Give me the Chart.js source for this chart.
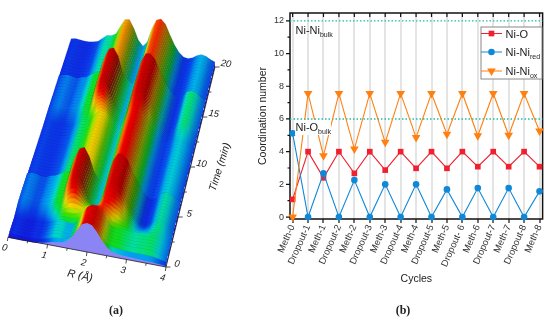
<!DOCTYPE html>
<html>
<head>
<meta charset="utf-8">
<script src="https://cdn.jsdelivr.net/npm/chart.js@4"></script>
<style>
  body { margin: 0; background: #fff; overflow: hidden; }
  canvas { position: absolute; top: 0; }
  #surface { left: 0; }
  #cycles { left: 250px; }
  .caption { position: absolute; top: 303px; width: 40px; text-align: center; font: bold 12px "Liberation Serif"; color: #222; }
</style>
</head>
<body>
<canvas id="surface" width="250" height="320"></canvas>
<canvas id="cycles" width="300" height="320"></canvas>
<div class="caption" style="left:96px">(a)</div>
<div class="caption" style="left:383px">(b)</div>

<script>
// panel (b) values
const cycleLabels = ['Meth-0', 'Dropout-1', 'Meth-1', 'Dropout-2', 'Meth-2', 'Dropout-3', 'Meth-3', 'Dropout-4', 'Meth-4', 'Dropout-5', 'Meth-5', 'Dropout- 6', 'Meth-6', 'Dropout-7', 'Meth-7', 'Dropout-8', 'Meth-8'];
const niO = [1.08, 4, 2.4, 4, 2.67, 4, 2.87, 4, 2.98, 4, 2.98, 4, 3.08, 4, 3.08, 4, 3.08];
const niNiRed = [5.12, 0, 2.67, 0, 2.26, 0, 2, 0, 2, 0, 1.69, 0, 1.77, 0, 1.77, 0, 1.57];
const niNiOx = [0, 7.56, 3.75, 7.56, 4.16, 7.56, 4.57, 7.56, 4.87, 7.56, 5.06, 7.56, 4.97, 7.56, 5, 7.56, 5.26];
const bulkLevels = [12, 6];
const yTicks = [0, 2, 4, 6, 8, 10, 12];
const yMinorTicks = [1, 3, 5, 7, 9, 11];

// panel (a) values: amplitude along R for each part of the run
const rGrid = [0, .125, .25, .375, .5, .625, .75, .875, 1, 1.125, 1.25, 1.375, 1.5, 1.625, 1.75, 1.875, 2, 2.125, 2.25, 2.375, 2.5, 2.625, 2.75, 2.875, 3, 3.125, 3.25, 3.375, 3.5, 3.625, 3.75, 3.875, 4];
const scanEdge  = [0, 0, 0, 0, 0, 0, .01, .02, .05, .08, .1, .12, .18, .3, .48, .64, .69, .66, .52, .34, .2, .12, .09, .08, .07, .07, .06, .06, .05, .05, .04, .03, .02];
const scanFront = [.03, .05, .04, .03, .03, .05, .05, .08, .12, .17, .18, .15, .14, .22, .4, .6, .68, .66, .55, .38, .26, .24, .23, .21, .2, .19, .2, .2, .21, .2, .17, .13, .09];
const scanLower = [.12, .16, .15, .12, .12, .17, .2, .26, .34, .36, .72, .95, 1, .8, .46, .3, .22, .42, .82, 1, 1, .88, .64, .42, .22, .1, .06, .11, .22, .28, .25, .17, .12];
const scanMid   = [.08, .1, .09, .08, .08, .1, .12, .19, .28, .3, .36, .5, .58, .56, .44, .3, .22, .4, .7, .82, .84, .72, .5, .32, .18, .11, .09, .12, .2, .23, .2, .15, .1];
const scanUpper = [.1, .14, .16, .14, .12, .16, .18, .26, .33, .36, .74, .96, 1, .82, .46, .3, .2, .38, .8, 1, 1.02, .9, .66, .44, .24, .12, .07, .12, .26, .3, .27, .18, .12];
const scanBack  = [.08, .1, .09, .08, .08, .1, .13, .22, .31, .32, .38, .58, .76, .78, .58, .32, .2, .32, .66, .88, .92, .82, .58, .36, .2, .11, .09, .13, .2, .24, .22, .16, .12];
const scanProfiles = [scanEdge, scanFront, scanLower, scanMid, scanUpper, scanBack];
const scanGain = [1.45, 1.45, 1, 1.05, 1, .88];

// one entry per recorded row, blend = share of the profile before it
const scanTimes = [0, .25, .5, .8, 1.1, 1.4, 1.7, 1.9,
  2.05, 2.2, 2.35, 2.5, 2.65, 2.8, 2.95, 3.1, 3.25, 3.4,
  3.7, 4, 4.3, 4.6, 4.9, 5.2, 5.5, 5.8, 6,
  6.2, 6.5, 6.8, 7.1, 7.4, 7.7, 8, 8.3, 8.6, 8.9, 9.2, 9.5, 9.8, 10.1, 10.4, 10.7, 11, 11.3, 11.5,
  11.65, 11.8, 11.95, 12.1, 12.25, 12.4, 12.55, 12.7, 12.85,
  13.1, 13.4, 13.7, 14, 14.3, 14.6, 14.9, 15.2, 15.5, 15.8, 16.1,
  16.3, 16.6, 16.9, 17.2, 17.5, 17.8, 18.1, 18.4, 18.7, 19, 19.3, 19.6, 20];
const scanProfile = [0, 1, 1, 1, 1, 1, 1, 1,
  2, 2, 2, 2, 2, 2, 2, 2, 2, 2,
  2, 2, 2, 2, 2, 2, 2, 2, 2,
  3, 3, 3, 3, 3, 3, 3, 3, 3, 3, 3, 3, 3, 3, 3, 3, 3, 3, 3,
  4, 4, 4, 4, 4, 4, 4, 4, 4,
  4, 4, 4, 4, 4, 4, 4, 4, 4, 4, 4,
  5, 5, 5, 5, 5, 5, 5, 5, 5, 5, 5, 5, 5];
const scanBlend = [0, .5, 0, 0, 0, 0, 0, 0,
  .9, .8, .7, .6, .5, .4, .3, .2, .1, .05,
  0, 0, 0, 0, 0, 0, 0, 0, 0,
  0, 0, 0, 0, 0, 0, 0, 0, 0, 0, 0, 0, 0, 0, 0, 0, 0, 0, 0,
  .9, .8, .7, .6, .5, .4, .3, .2, .1,
  0, 0, 0, 0, 0, 0, 0, 0, 0, 0, 0,
  0, 0, 0, 0, 0, 0, 0, 0, 0, 0, 0, 0, 0];

const rainbow = [
  [0, [20, 10, 215]], [.1, [10, 60, 235]], [.2, [0, 170, 240]], [.26, [0, 220, 200]],
  [.33, [10, 225, 40]], [.42, [60, 225, 0]], [.58, [240, 225, 0]], [.72, [255, 130, 0]],
  [.85, [245, 0, 0]], [1.1, [190, 0, 0]]
];

function rainbowColor(c, shade) {
  let i = 0;
  while (i < rainbow.length - 2 && c > rainbow[i + 1][0]) i++;
  const a = rainbow[i], b = rainbow[i + 1];
  const k = Math.min(1, Math.max(0, (c - a[0]) / (b[0] - a[0])));
  const rgb = a[1].map((v, n) => Math.round((v + (b[1][n] - v) * k) * shade));
  return `rgb(${rgb[0]},${rgb[1]},${rgb[2]})`;
}

function scenePoint(r, t, h) {
  const f = t / 20;
  return {
    x: (8 + 39.5 * r) * (1 - f) + (71 + 36 * r) * f,
    y: (237 + 7.5 * r) * (1 - f) + (42 + 6.25 * r) * f - h * 42
  };
}

function rowHeights(i) {
  const p = scanProfile[i], b = scanBlend[i];
  if (b === 0) return scanProfiles[p];
  return scanProfiles[p].map((v, j) => v * (1 - b) + scanProfiles[p - 1][j] * b);
}

function rowGain(i) {
  const p = scanProfile[i], b = scanBlend[i];
  return b === 0 ? scanGain[p] : scanGain[p] * (1 - b) + scanGain[p - 1] * b;
}

// the surface scale runs 0-250 over a 250px canvas, so scene x is already a pixel here
function rowGradient(chart, i) {
  const x0 = scenePoint(0, scanTimes[i], 0).x;
  const x4 = scenePoint(4, scanTimes[i], 0).x;
  const g = chart.ctx.createLinearGradient(x0, 0, x4, 0);
  const h = rowHeights(i), gain = rowGain(i);
  rGrid.forEach((r, j) => {
    const slope = (h[Math.min(j + 1, h.length - 1)] - h[Math.max(j - 1, 0)]) / .25;
    const shade = Math.max(.42, Math.min(1, 1 + .24 * slope));
    g.addColorStop(r / 4, rainbowColor(h[j] * gain, shade));
  });
  return g;
}

const surfaceDatasets = [];

// face of the first scan and the R = 4 side, in front of everything
surfaceDatasets.push({
  data: rGrid.filter(r => r >= .75).map(r => scenePoint(r, 0, scanEdge[rGrid.indexOf(r)]))
    .concat([scenePoint(4, 0, 0), scenePoint(.75, 0, 0)]),
  backgroundColor: '#8a84f5', fill: 'shape', borderWidth: 0
});
surfaceDatasets.push({
  data: scanTimes.map((t, i) => scenePoint(4, t, rowHeights(i)[32]))
    .concat([scenePoint(4, 20, 0), scenePoint(4, 0, 0)]),
  backgroundColor: '#1414b8', fill: 'shape', borderWidth: 0
});

for (let i = 1; i < scanTimes.length; i++) {
  const back = rowHeights(i), front = rowHeights(i - 1);
  const top = rGrid.map((r, j) => scenePoint(r, scanTimes[i], back[j]));
  // front edge runs a little low so the next strip covers the seam
  const bottom = rGrid.map((r, j) => scenePoint(r, scanTimes[i - 1], front[j] - .02)).reverse();
  surfaceDatasets.push({
    data: top.concat(bottom),
    backgroundColor: ctx => rowGradient(ctx.chart, i),
    fill: 'shape',
    borderWidth: 0
  });
  // rib line along the row
  surfaceDatasets.push({
    data: top,
    fill: false,
    borderColor: 'rgba(0,0,0,.16)',
    borderWidth: .6
  });
}

const surfaceAxes = {
  id: 'surfaceAxes',
  afterDatasetsDraw(chart) {
    const { ctx, scales: { x, y } } = chart;
    const px = p => ({ x: x.getPixelForValue(p.x), y: y.getPixelForValue(p.y) });
    const line = (a, b) => {
      ctx.beginPath(); ctx.moveTo(a.x, a.y); ctx.lineTo(b.x, b.y); ctx.stroke();
    };
    const label = (text, cx, cy, angle, font) => {
      ctx.save();
      ctx.translate(cx, cy); ctx.rotate(angle);
      ctx.font = font; ctx.fillStyle = '#222';
      ctx.textAlign = 'center'; ctx.textBaseline = 'middle';
      ctx.fillText(text, 0, 0);
      ctx.restore();
    };
    ctx.save();
    ctx.strokeStyle = '#222';
    ctx.lineWidth = .8;
    line(px(scenePoint(0, 0, 0)), px(scenePoint(4, 0, 0)));
    line(px(scenePoint(4, 0, 0)), px(scenePoint(4, 20, 0)));
    [.5, 1, 1.5, 2, 2.5, 3, 3.5, 4, 0].forEach(r => {
      const p = px(scenePoint(r, 0, 0));
      line(p, { x: p.x - .6, y: p.y + (r % 1 === 0 ? 4 : 2.5) });
      if (r % 1 === 0) label(String(r), p.x - 3.5, p.y + 11, .2, 'italic 9.5px "Liberation Sans"');
    });
    [0, 2.5, 5, 7.5, 10, 12.5, 15, 17.5, 20].forEach(t => {
      const p = px(scenePoint(4, t, 0));
      line(p, { x: p.x + (t % 5 === 0 ? 4.5 : 2.5), y: p.y });
      if (t % 5 === 0) label(String(t), p.x + 11, p.y - 3, .15, 'italic 9.5px "Liberation Sans"');
    });
    ctx.restore();
    label('R (\u00c5)', 80, 276, .21, 'italic 11px "Liberation Sans"');
    label('Time (min)', 220, 167, -1.27, 'italic 10.5px "Liberation Sans"');
  }
};

new Chart(document.getElementById('surface'), {
  type: 'scatter',
  data: { datasets: surfaceDatasets },
  options: {
    responsive: false,
    animation: false,
    events: [],
    showLine: true,
    clip: false,
    elements: { point: { radius: 0 } },
    layout: { padding: 0 },
    plugins: { legend: { display: false }, tooltip: { enabled: false } },
    scales: {
      x: { type: 'linear', display: false, min: 0, max: 250 },
      y: { type: 'linear', display: false, min: 0, max: 320, reverse: true }
    }
  },
  plugins: [surfaceAxes]
});

const RED = '#f0202f', BLUE = '#1088d8', ORANGE = '#ff8010';
const textFont = '"Liberation Sans"';

function subLabel(ctx, main, sub, x, y) {
  ctx.fillStyle = '#222';
  ctx.textAlign = 'left';
  ctx.textBaseline = 'alphabetic';
  ctx.font = `11px ${textFont}`;
  ctx.fillText(main, x, y);
  const w = ctx.measureText(main).width;
  ctx.font = `7px ${textFont}`;
  ctx.fillText(sub, x + w, y + 3);
}

const cycleFrame = {
  id: 'cycleFrame',
  beforeDatasetsDraw(chart) {
    const { ctx, chartArea: a, scales: { x, y } } = chart;
    ctx.save();
    ctx.strokeStyle = '#111';
    ctx.lineWidth = 1.5;
    ctx.strokeRect(a.left, a.top, a.right - a.left, a.bottom - a.top);
    ctx.lineWidth = 1.2;
    ctx.beginPath();
    cycleLabels.forEach((c, i) => {
      const px = x.getPixelForValue(i);
      ctx.moveTo(px, a.top); ctx.lineTo(px, a.top + 4);
    });
    yTicks.forEach(v => {
      const py = y.getPixelForValue(v);
      ctx.moveTo(a.left, py); ctx.lineTo(a.left - 4, py);
    });
    yMinorTicks.forEach(v => {
      const py = y.getPixelForValue(v);
      ctx.moveTo(a.left, py); ctx.lineTo(a.left - 2.5, py);
    });
    ctx.stroke();
    ctx.restore();
  },
  afterDatasetsDraw(chart) {
    const { ctx, data: { datasets } } = chart;
    ctx.save();
    // bulk labels sit on white
    ctx.fillStyle = '#fff';
    ctx.fillRect(45, 120, 36, 15);
    subLabel(ctx, 'Ni-Ni', 'bulk', 45.5, 34);
    subLabel(ctx, 'Ni-O', 'bulk', 45.5, 131);

    // legend box
    ctx.fillStyle = '#fff';
    ctx.strokeStyle = '#888';
    ctx.lineWidth = 1;
    ctx.fillRect(231, 27, 61, 52);
    ctx.strokeRect(231, 27, 61, 52);
    const rows = [
      ['Ni-O', '', 33.5, 'rect', 0, 2],
      ['Ni-Ni', 'red', 52, 'circle', 0, 1],
      ['Ni-Ni', 'ox', 71, 'triangle', 180, 0]
    ];
    rows.forEach(r => {
      const ds = datasets[r[5]];
      ctx.strokeStyle = ds.borderColor;
      ctx.lineWidth = 1;
      ctx.beginPath(); ctx.moveTo(231, r[2]); ctx.lineTo(252, r[2]); ctx.stroke();
      ctx.fillStyle = ds.pointBackgroundColor;
      ctx.strokeStyle = ds.pointBackgroundColor;
      Chart.helpers.drawPoint(ctx, { pointStyle: r[3], radius: ds.pointRadius, rotation: r[4], borderWidth: 0 }, 241.5, r[2]);
      subLabel(ctx, r[0], r[1], 255.5, r[2] + 4);
    });
    ctx.restore();
  }
};

const markerSet = (label, data, color, style, radius, rotation) => ({
  label, data: data.map((v, i) => ({ x: i, y: v })),
  borderColor: color, borderWidth: 1.1,
  pointBackgroundColor: color, pointBorderWidth: 0,
  pointStyle: style, pointRadius: radius, pointRotation: rotation || 0,
  clip: false, showLine: true
});

const bulkSets = bulkLevels.map(v => ({
  label: 'bulk ' + v,
  data: [{ x: -0.17, y: v }, { x: 16.2, y: v }],
  borderColor: '#19bfa8', borderWidth: 1.4, borderDash: [1.5, 2],
  pointRadius: 0, showLine: true
}));

new Chart(document.getElementById('cycles'), {
  type: 'scatter',
  data: {
    datasets: [
      markerSet('Ni-Ni ox', niNiOx, ORANGE, 'triangle', 5, 180),
      markerSet('Ni-Ni red', niNiRed, BLUE, 'circle', 3.3),
      markerSet('Ni-O', niO, RED, 'rect', 4),
      ...bulkSets
    ]
  },
  options: {
    responsive: false,
    animation: false,
    events: [],
    layout: { padding: { top: 13, right: 3, left: 0, bottom: 0 } },
    plugins: { legend: { display: false }, tooltip: { enabled: false } },
    scales: {
      x: {
        type: 'linear', min: -0.17, max: 16.2,
        afterBuildTicks: scale => { scale.ticks = cycleLabels.map((c, i) => ({ value: i })); },
        afterFit: scale => { scale.height = 101; },
        border: { display: false },
        grid: { color: '#e4e4e4', lineWidth: 2, tickColor: '#111', tickWidth: 1.2, tickLength: 4 },
        ticks: {
          autoSkip: false, minRotation: 66, maxRotation: 66, padding: 0,
          font: { family: 'Liberation Sans', size: 9.5 }, color: '#333',
          callback: v => cycleLabels[v]
        },
        title: {
          display: true, text: 'Cycles', color: '#222',
          font: { family: 'Liberation Sans', size: 10.5 }, padding: { top: 0, bottom: 35 }
        }
      },
      y: {
        type: 'linear', min: -0.12, max: 12.48,
        afterBuildTicks: scale => { scale.ticks = yTicks.map(v => ({ value: v })); },
        afterFit: scale => { scale.width = 40; },
        border: { display: false },
        grid: { display: false, drawTicks: false },
        ticks: { padding: 6, font: { family: 'Liberation Sans', size: 9 }, color: '#333' },
        title: {
          display: true, text: 'Coordination number', color: '#222',
          font: { family: 'Liberation Sans', size: 10.5 }, padding: { top: 7, bottom: 0 }
        }
      }
    }
  },
  plugins: [cycleFrame]
});
</script>
</body>
</html>
